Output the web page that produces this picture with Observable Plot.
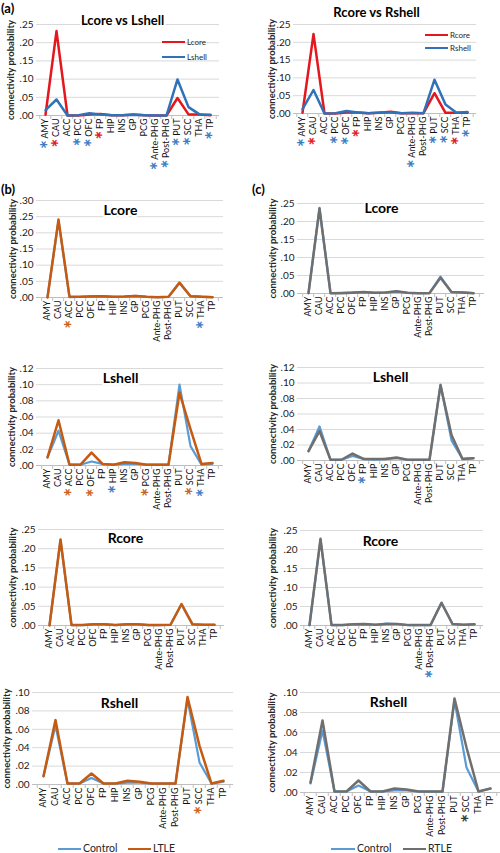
<!DOCTYPE html>
<html><head><meta charset="utf-8">
<script src="https://cdn.jsdelivr.net/npm/d3@7"></script>
<script src="https://cdn.jsdelivr.net/npm/@observablehq/plot@0.6"></script>
<style>
body{margin:0;background:#fff;font-family:Lato,sans-serif}
#fig{position:relative;width:500px;height:853px;overflow:hidden;background:#fff}
.lab{position:absolute;font-weight:bold;font-size:13px;color:#000;line-height:1.1}
.lg-line{position:absolute;height:2.5px}
.lg-text{position:absolute;line-height:1;color:#262626;white-space:nowrap}
</style></head>
<body><div id="fig"></div>
<script>
// ---------- data ----------
const cats = ["AMY","CAU","ACC","PCC","OFC","FP","HIP","INS","GP","PCG","Ante-PHG","Post-PHG","PUT","SCC","THA","TP"];

const aLcore  = [0.002,0.232,0.000,0.000,0.003,0.004,0.001,0.001,0.003,0.001,0.000,0.000,0.048,0.003,0.003,0.001];
const aLshell = [0.015,0.044,0.000,0.001,0.006,0.003,0.001,0.001,0.002,0.001,0.000,0.000,0.099,0.023,0.003,0.002];
const aRcore  = [0.002,0.223,0.000,0.000,0.003,0.003,0.001,0.002,0.005,0.001,0.001,0.001,0.057,0.002,0.002,0.002];
const aRshell = [0.012,0.066,0.000,0.001,0.007,0.003,0.001,0.003,0.003,0.001,0.002,0.001,0.095,0.025,0.002,0.004];

const bLcoreControl  = [0.001,0.238,0.001,0.002,0.004,0.004,0.002,0.003,0.005,0.002,0.001,0.002,0.045,0.004,0.003,0.001];
const bLcoreLTLE     = [0.000,0.241,0.002,0.002,0.003,0.004,0.002,0.003,0.005,0.002,0.001,0.002,0.046,0.004,0.002,0.001];
const cLcoreControl  = [0.001,0.238,0.001,0.002,0.003,0.004,0.002,0.003,0.005,0.002,0.001,0.002,0.047,0.004,0.003,0.001];
const cLcoreRTLE     = [0.001,0.236,0.001,0.001,0.002,0.004,0.002,0.003,0.006,0.002,0.001,0.001,0.044,0.004,0.003,0.001];

const bLshellControl = [0.010,0.043,0.001,0.001,0.005,0.002,0.001,0.002,0.002,0.001,0.001,0.001,0.100,0.024,0.001,0.002];
const bLshellLTLE    = [0.010,0.056,0.001,0.001,0.016,0.002,0.001,0.004,0.003,0.001,0.001,0.001,0.090,0.045,0.002,0.003];
const cLshellControl = [0.012,0.044,0.001,0.001,0.006,0.002,0.001,0.002,0.003,0.001,0.001,0.001,0.098,0.026,0.002,0.003];
const cLshellRTLE    = [0.012,0.038,0.001,0.001,0.009,0.002,0.002,0.002,0.004,0.001,0.001,0.001,0.097,0.033,0.002,0.003];

const bRcoreControl  = [0.001,0.222,0.001,0.001,0.003,0.003,0.001,0.003,0.003,0.001,0.001,0.002,0.055,0.003,0.002,0.002];
const bRcoreLTLE     = [0.000,0.224,0.001,0.001,0.003,0.003,0.001,0.003,0.003,0.001,0.001,0.002,0.056,0.003,0.002,0.002];
const cRcoreControl  = [0.001,0.226,0.001,0.001,0.003,0.003,0.002,0.005,0.004,0.001,0.001,0.001,0.059,0.004,0.002,0.003];
const cRcoreRTLE     = [0.001,0.228,0.001,0.001,0.003,0.004,0.002,0.004,0.004,0.001,0.001,0.001,0.060,0.004,0.002,0.003];

const bRshellControl = [0.009,0.064,0.001,0.001,0.007,0.001,0.001,0.002,0.002,0.001,0.001,0.001,0.093,0.024,0.001,0.003];
const bRshellLTLE    = [0.009,0.070,0.001,0.001,0.012,0.001,0.001,0.004,0.003,0.001,0.001,0.001,0.095,0.042,0.001,0.004];
const cRshellControl = [0.009,0.062,0.001,0.001,0.007,0.001,0.001,0.002,0.002,0.001,0.001,0.001,0.092,0.025,0.001,0.004];
const cRshellRTLE    = [0.010,0.072,0.001,0.001,0.012,0.001,0.001,0.004,0.003,0.001,0.001,0.001,0.094,0.045,0.001,0.004];

const ticks25 = [0,0.05,0.10,0.15,0.20,0.25];
const ticks30 = [0,0.05,0.10,0.15,0.20,0.25,0.30];
const ticks12 = [0,0.02,0.04,0.06,0.08,0.10,0.12];
const ticks10 = [0,0.02,0.04,0.06,0.08,0.10];

const starsAL = {AMY:"blue",CAU:"red",PCC:"blue",OFC:"blue",FP:"red","Ante-PHG":"blue","Post-PHG":"blue",PUT:"blue",SCC:"blue",TP:"blue"};
const starsAR = {AMY:"blue",CAU:"red",PCC:"blue",OFC:"blue",FP:"red","Ante-PHG":"blue",PUT:"blue",SCC:"blue",THA:"red",TP:"blue"};
const starsBLcore = {ACC:"orange",THA:"blue"};
const starsBLshell = {ACC:"orange",OFC:"orange",HIP:"blue",PCG:"orange",SCC:"orange",THA:"blue"};
const starsCLshell = {FP:"blue"};
const starsCRcore = {"Post-PHG":"blue"};
const starsBRshell = {SCC:"orange"};
const starsCRshell = {SCC:"dark"};

// ---------- styles ----------
const RED = "#e3171d", BLUE = "#2f72b8", CTRL = "#5b9bd5", ORANGE = "#c55a11", GRAY = "#6f6f6f";
const starColor = {blue:"#3b7dc4", red:"#e3171d", orange:"#c8641e", dark:"#3a3a3a"};
const yLabel = "connectivity probability";

const layout = [
  {col:0,x0:36,x1:219,yTop:24,yBot:115,ticks:ticks25,title:"Lcore vs Lshell",tx:122,ty:20.5,ts:13,lx:10,series:[[aLcore,RED,2.5],[aLshell,BLUE,2.5]],stars:starsAL},
  {col:1,x0:293,x1:476,yTop:24,yBot:113,ticks:ticks25,title:"Rcore vs Rshell",tx:376,ty:12,ts:13,lx:271,series:[[aRcore,RED,2.5],[aRshell,BLUE,2.5]],stars:starsAR},
  {col:0,x0:36,x1:223,yTop:200,yBot:297,ticks:ticks30,title:"Lcore",tx:120,ty:210,ts:14,lx:12,series:[[bLcoreControl,CTRL,2.2],[bLcoreLTLE,ORANGE,2.5]],stars:starsBLcore},
  {col:1,x0:297,x1:484,yTop:203,yBot:293,ticks:ticks25,title:"Lcore",tx:381,ty:208,ts:14,lx:272,series:[[cLcoreControl,CTRL,2.2],[cLcoreRTLE,GRAY,2.5]],stars:{}},
  {col:0,x0:36,x1:223,yTop:368,yBot:465,ticks:ticks12,title:"Lshell",tx:120,ty:378,ts:14,lx:11,series:[[bLshellControl,CTRL,2.2],[bLshellLTLE,ORANGE,2.5]],stars:starsBLshell},
  {col:1,x0:297,x1:484,yTop:367,yBot:460,ticks:ticks12,title:"Lshell",tx:390,ty:377,ts:14,lx:272,series:[[cLshellControl,CTRL,2.2],[cLshellRTLE,GRAY,2.5]],stars:starsCLshell},
  {col:0,x0:38,x1:224,yTop:529,yBot:625,ticks:ticks25,title:"Rcore",tx:125,ty:538,ts:14,lx:12,series:[[bRcoreControl,CTRL,2.2],[bRcoreLTLE,ORANGE,2.5]],stars:{}},
  {col:1,x0:300,x1:483,yTop:530,yBot:625,ticks:ticks25,title:"Rcore",tx:380,ty:541,ts:14,lx:272,series:[[cRcoreControl,CTRL,2.2],[cRcoreRTLE,GRAY,2.5]],stars:starsCRcore},
  {col:0,x0:32,x1:233,yTop:692,yBot:784,ticks:ticks10,title:"Rshell",tx:119,ty:703,ts:14,lx:6,series:[[bRshellControl,CTRL,2.2],[bRshellLTLE,ORANGE,2.5]],stars:starsBRshell},
  {col:1,x0:300,x1:500,yTop:692,yBot:792,ticks:ticks10,title:"Rshell",tx:388,ty:702,ts:14,lx:271,series:[[cRshellControl,CTRL,2.2],[cRshellRTLE,GRAY,2.5]],stars:starsCRshell}
];

const fmt = d => d3.format(".2f")(d).replace(/^0/, "");
const fig = document.getElementById("fig");
const NS = "http://www.w3.org/2000/svg";

function addStars(svg, stars) {
  svg.querySelectorAll('[aria-label^="x-axis"] text').forEach(t => {
    const lab = t.textContent;
    const c = stars[lab];
    if (!c) return;
    t.textContent = "";
    const s = document.createElementNS(NS, "tspan");
    s.textContent = "*";
    s.setAttribute("fill", starColor[c]);
    s.setAttribute("font-size", "21");
    s.setAttribute("font-weight", "bold");
    s.setAttribute("dy", "8");
    const l = document.createElementNS(NS, "tspan");
    l.textContent = lab;
    l.setAttribute("dy", "-8");
    l.setAttribute("dx", "1.5");
    t.append(s, l);
  });
}

for (const p of layout) {
  const cl = p.col ? 250 : 0, cr = cl + 250;
  const mt = 30, mb = 62;
  const ml = p.x0 - cl, mr = cr - p.x1;
  const H = p.yBot - p.yTop + mt + mb;
  const ymax = p.ticks[p.ticks.length - 1];
  const step = (p.x1 - p.x0) / cats.length;
  const tickLen = 4 * ymax / (p.yBot - p.yTop);
  const marks = [
    Plot.gridY(p.ticks.filter(t => t > 0), {stroke: "#d9d9d9", strokeOpacity: 1}),
    Plot.ruleY([0], {stroke: "#bfbfbf"}),
    Plot.ruleX(cats, {x: d => d, y1: 0, y2: -tickLen, dx: -step / 2, stroke: "#bfbfbf"}),
    Plot.ruleX([cats[cats.length - 1]], {x: d => d, y1: 0, y2: -tickLen, dx: step / 2, stroke: "#bfbfbf"}),
    Plot.axisY(p.ticks, {tickSize: 0, tickPadding: 3, tickFormat: fmt, fontSize: 10, fill: "#1a1a1a", label: null}),
    Plot.axisX(cats, {tickRotate: -90, tickSize: 0, tickPadding: 3, fontSize: 9, fill: "#111", label: null}),
    ...p.series.map(([vals, color, w]) => Plot.line(cats, {x: d => d, y: (d, i) => vals[i], stroke: color, strokeWidth: w})),
    Plot.text([p.title], {frameAnchor: "top-left", dx: p.tx - p.x0, dy: p.ty - p.yTop, text: d => d, fontSize: p.ts, fontWeight: "bold", fill: "#000", stroke: "white", strokeWidth: 4, textAnchor: "middle", lineAnchor: "middle"}),
    Plot.text([yLabel], {frameAnchor: "left", rotate: -90, dx: p.lx - p.x0, text: d => d, fontSize: 9.5, fontWeight: "bold", fill: "#262626", textAnchor: "middle", lineAnchor: "middle"})
  ];
  const chart = Plot.plot({
    width: 250, height: H,
    marginLeft: ml, marginRight: mr, marginTop: mt, marginBottom: mb,
    x: {type: "point", domain: cats, padding: 0.5},
    y: {type: "linear", domain: [0, ymax]},
    style: {overflow: "visible", background: "none", fontFamily: "Lato, sans-serif"},
    marks
  });
  chart.style.position = "absolute";
  chart.style.left = cl + "px";
  chart.style.top = (p.yTop - mt) + "px";
  addStars(chart, p.stars);
  fig.appendChild(chart);
}

// panel labels
[["(a)", 1, 1], ["(b)", 1, 182], ["(c)", 252, 182]].forEach(([t, x, y]) => {
  const d = document.createElement("div");
  d.className = "lab"; d.textContent = t;
  d.style.left = x + "px"; d.style.top = y + "px";
  fig.appendChild(d);
});

// legends
const legendItems = [
  {x1:162,x2:185,y:42,color:RED,label:"Lcore",tx:187,size:8},
  {x1:162,x2:185,y:57,color:BLUE,label:"Lshell",tx:187,size:8},
  {x1:425,x2:448,y:35,color:RED,label:"Rcore",tx:450,size:8},
  {x1:425,x2:448,y:48,color:BLUE,label:"Rshell",tx:450,size:8},
  {x1:58,x2:81,y:849,color:CTRL,label:"Control",tx:83,size:10.5},
  {x1:128,x2:151,y:849,color:ORANGE,label:"LTLE",tx:153,size:10.5},
  {x1:331,x2:355,y:849,color:CTRL,label:"Control",tx:357,size:10.5},
  {x1:403,x2:426,y:849,color:GRAY,label:"RTLE",tx:428,size:10.5}
];
legendItems.forEach(it => {
  const l = document.createElement("div");
  l.className = "lg-line";
  l.style.left = it.x1 + "px"; l.style.width = (it.x2 - it.x1) + "px";
  l.style.top = (it.y - 1.25) + "px"; l.style.background = it.color;
  fig.appendChild(l);
  const t = document.createElement("div");
  t.className = "lg-text"; t.textContent = it.label;
  t.style.left = it.tx + "px"; t.style.fontSize = it.size + "px";
  t.style.top = (it.y - it.size * 0.55) + "px";
  fig.appendChild(t);
});
</script></body></html>
